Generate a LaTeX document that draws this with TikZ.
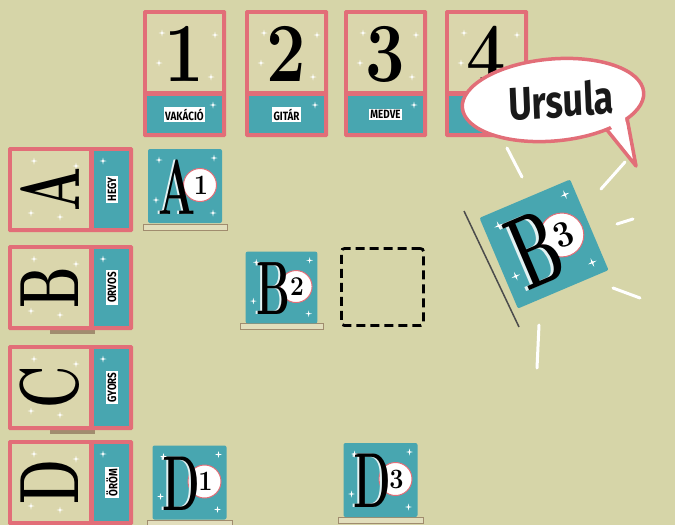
\documentclass[tikz,border=0pt]{standalone}
\usepackage{fontspec}
\usetikzlibrary{shapes.geometric}
\newfontfamily\lblfont{Fira Sans}
\definecolor{bg}{RGB}{214,213,168}
\definecolor{cardbg}{RGB}{218,214,172}
\definecolor{pinkc}{RGB}{226,110,120}
\definecolor{tealc}{RGB}{72,166,176}
\definecolor{shadc}{RGB}{160,140,110}
\definecolor{shadl}{RGB}{226,222,188}
\tikzset{
  lblbox/.style={fill=white, inner xsep=2pt, inner ysep=1.5pt, text=black,
    font=\lblfont\bfseries\fontsize{12}{12}\selectfont, xscale=0.82},
  bigchar/.style={inner sep=0pt, text=black, font=\bfseries\fontsize{84}{84}\selectfont, xscale=0.62},
  tileletter/.style={inner sep=0pt, font=\bfseries\fontsize{78}{78}\selectfont, xscale=0.56},
  digitfont/.style={inner sep=0pt, text=black, font=\bfseries\fontsize{28}{28}\selectfont, xscale=0.9},
  spark/.pic={\fill[white] (0,-3.5) -- (0.6,-0.6) -- (3.5,0) -- (0.6,0.6) -- (0,3.5) -- (-0.6,0.6) -- (-3.5,0) -- (-0.6,-0.6) -- cycle;},
  ray/.style={white, line width=3pt, line cap=round},
  tileshadow/.style={fill=shadl, draw=shadc, line width=0.8pt}
}
\newcommand\colcard[4]{%
\begin{scope}[shift={(#2,10)}]
  \fill[pinkc, rounded corners=1.5] (0,0) rectangle (83,127);
  \fill[cardbg] (4,4) rectangle (79,81);
  \fill[tealc] (4,86) rectangle (79,123);
  \node[bigchar, xscale=1.35] (#1n) at (41.5,44) {#3};
  \node[lblbox] (#1l) at (41.5,104.5) {#4};
  \pic at (19,23) {spark};
  \pic at (16,53) {spark};
  \pic at (68,67) {spark};
  \pic at (72,25) {spark};
  \pic at (70,95) {spark};
\end{scope}}
\newcommand\rowcard[4]{%
\begin{scope}[shift={(8,#2)}]
  \fill[pinkc, rounded corners=1.5] (0,0) rectangle (125,85);
  \fill[cardbg] (4,4) rectangle (81,81);
  \fill[tealc] (86,4) rectangle (121,81);
  \node[rotate=90, bigchar] (#1n) at (42,42.5) {#3};
  \node[rotate=90, lblbox] (#1l) at (104,42.5) {#4};
  \pic at (23,66) {spark};
  \pic at (52,70) {spark};
  \pic at (68,19) {spark};
  \pic at (26,14) {spark};
  \pic at (95,14) {spark};
\end{scope}}
\newcommand\tile[7]{%
\begin{scope}[shift={(#2,#3)}, rotate=#7, scale=#6, transform shape]
  \fill[tealc, rounded corners=2] (-37,-37) rectangle (37,37);
  \node[circle, fill=white, draw=pinkc, line width=1pt, minimum size=33pt, inner sep=0pt] (#1c) at (15,-1) {};
  \node[tileletter, text=white!85!tealc] at (-10,1) {#4};
  \node[tileletter, text=black] (#1) at (-8,1) {#4};
  \node[digitfont] (#1d) at (16,-1) {#5};
  \pic at (-26,-26) {spark};
  \pic at (28,27) {spark};
  \pic at (-29,14) {spark};
  \pic at (29,-28) {spark};
\end{scope}}
\begin{document}
\begin{tikzpicture}[x=1pt, y=-1pt]
\fill[bg] (0,0) rectangle (675,525);
\useasboundingbox (0,0) rectangle (675,525);
% column cards
\colcard{c1}{143}{1}{VAKÁCIÓ}
\colcard{c2}{245}{2}{GITÁR}
\colcard{c3}{344}{3}{MEDVE}
\colcard{c4}{445}{4}{\phantom{XXXXX}}
% row cards shadows
\fill[shadc] (50,330) rectangle (95,334);
\fill[shadc] (50,430) rectangle (95,434);
% row cards
\rowcard{rA}{147}{A}{HEGY}
\rowcard{rB}{245}{B}{ORVOS}
\rowcard{rC}{345}{C}{GYORS}
\rowcard{rD}{440}{D}{ÖRÖM}
% tile shadows
\draw[tileshadow] (143,224) rectangle (227,230);
\draw[tileshadow] (240,323) rectangle (323,329);
\draw[tileshadow] (147,520) rectangle (232,526);
\draw[tileshadow] (338,517) rectangle (423,523);
% tiles
\tile{tA1}{185}{186}{A}{1}{1}{0}
\tile{tB2}{281.5}{287.5}{B}{2}{0.97}{0}
\tile{tD1}{189.5}{482.5}{D}{1}{1}{0}
\tile{tD3}{380.5}{480}{D}{3}{1}{0}
% empty slot
\node[draw=black, dashed, dash pattern=on 9pt off 5pt, line width=2.8pt, rounded corners=3pt,
  minimum width=82pt, minimum height=77pt, inner sep=0pt] (slot) at (382.5,287) {};
% rays
\draw[ray] (507,148) -- (522,177);
\draw[ray] (601,189) -- (625,162);
\draw[ray] (617,224) -- (633,219);
\draw[ray] (613,288) -- (640,298);
\draw[ray] (539,325) -- (537,368);
% B3 shadow line
\draw[black!70, line width=1.5pt] (464,211) -- (519,327);
% B3 tile
\tile{tB3}{544}{244}{B}{3}{1.33}{23}
% speech bubble
\fill[white, draw=pinkc, line width=3.5pt, line join=round] (603,125) -- (636,166) -- (627,118) -- cycle;
\node[ellipse, fill=white, draw=pinkc, line width=3.5pt, minimum width=182pt, minimum height=82pt, rotate=5, inner sep=0pt] (bub) at (553,100) {};
\fill[white] (606,120) -- (631,156) -- (624,112) -- cycle;
\node[font=\lblfont\bfseries\fontsize{46}{46}\selectfont, xscale=0.78, rotate=3, text=black!90] (urs) at (561,100) {Ursula};
\end{tikzpicture}
\end{document}
